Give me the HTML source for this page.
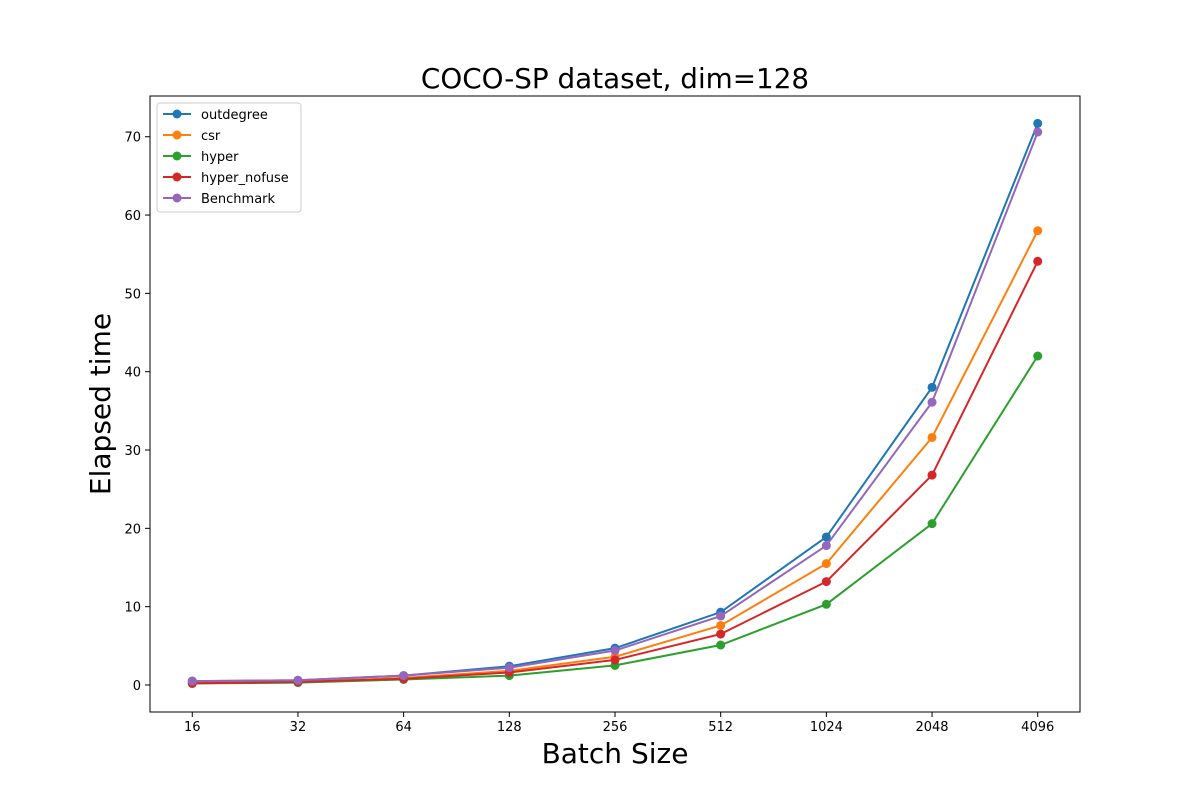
<!DOCTYPE html>
<html><head><meta charset="utf-8"><style>body{margin:0;background:#fff}svg{font-family:"DejaVu Sans","Liberation Sans",sans-serif}</style></head>
<body>
<svg id="c" width="1200" height="800"></svg>
<script>
const categories=["16","32","64","128","256","512","1024","2048","4096"];
const outdegree=[0.5,0.6,1.2,2.4,4.7,9.3,18.9,38.0,71.7];
const csr=[0.3,0.4,0.9,1.8,3.6,7.6,15.5,31.6,58.0];
const hyper=[0.2,0.3,0.7,1.2,2.5,5.1,10.3,20.6,42.0];
const hyperNofuse=[0.2,0.4,0.8,1.6,3.2,6.5,13.2,26.8,54.1];
const benchmark=[0.5,0.6,1.2,2.2,4.4,8.8,17.8,36.1,70.6];
const yTicks=[0,10,20,30,40,50,60,70];
const seriesNames=["outdegree","csr","hyper","hyper_nofuse","Benchmark"];
const seriesData=[outdegree,csr,hyper,hyperNofuse,benchmark];
const colors=["#1f77b4","#ff7f0e","#2ca02c","#d62728","#9467bd"];
const L=150,R=1080,T=96,B=712,ymin=-3.45,ymax=75.2;
const sx=i=>L+(i+0.4)/8.8*(R-L);
const sy=v=>B-(v-ymin)/(ymax-ymin)*(B-T);
const svg=document.getElementById('c');const NS="http://www.w3.org/2000/svg";
function el(t,a,p){const e=document.createElementNS(NS,t);for(const k in a)e.setAttribute(k,a[k]);(p||svg).appendChild(e);return e;}
let t=el('text',{x:615,y:88,'text-anchor':'middle','font-size':27.8});t.textContent="COCO-SP dataset, dim=128";

categories.forEach((c,i)=>{const x=sx(i);el('line',{x1:x,x2:x,y1:B,y2:B+5,stroke:'#000'});
const tx=el('text',{x:x,y:B+19,'text-anchor':'middle','font-size':13});tx.textContent=c;
});
yTicks.forEach(v=>{const y=sy(v);el('line',{x1:L-5,x2:L,y1:y,y2:y,stroke:'#000'});
const tx=el('text',{x:L-9,y:y+5,'text-anchor':'end','font-size':13});tx.textContent=v;
});
t=el('text',{x:615,y:763,'text-anchor':'middle','font-size':28});t.textContent="Batch Size";

t=el('text',{x:110,y:404,'text-anchor':'middle','font-size':28,transform:'rotate(-90 110 404)'});t.textContent="Elapsed time";

seriesData.forEach((d,s)=>{const g=el('g',{});
el('polyline',{points:d.map((v,i)=>sx(i)+','+sy(v)).join(' '),fill:'none',stroke:colors[s],'stroke-width':2},g);
d.forEach((v,i)=>{const c=el('circle',{cx:sx(i),cy:sy(v),r:4.5,fill:colors[s]},g);});});
const f=el('rect',{x:L,y:T,width:R-L,height:B-T,fill:'none',stroke:'#000','stroke-width':1});

const lg=el('g',{});
el('rect',{x:157,y:103,width:144,height:109,rx:3,fill:'#fff',stroke:'#ccc'},lg);
seriesNames.forEach((n,s)=>{const y=114+s*21;el('line',{x1:163,x2:191,y1:y,y2:y,stroke:colors[s],'stroke-width':2},lg);
el('circle',{cx:177,cy:y,r:4.5,fill:colors[s]},lg);const tx=el('text',{x:201,y:y+5,'font-size':13},lg);tx.textContent=n;
});
</script>
</body></html>
